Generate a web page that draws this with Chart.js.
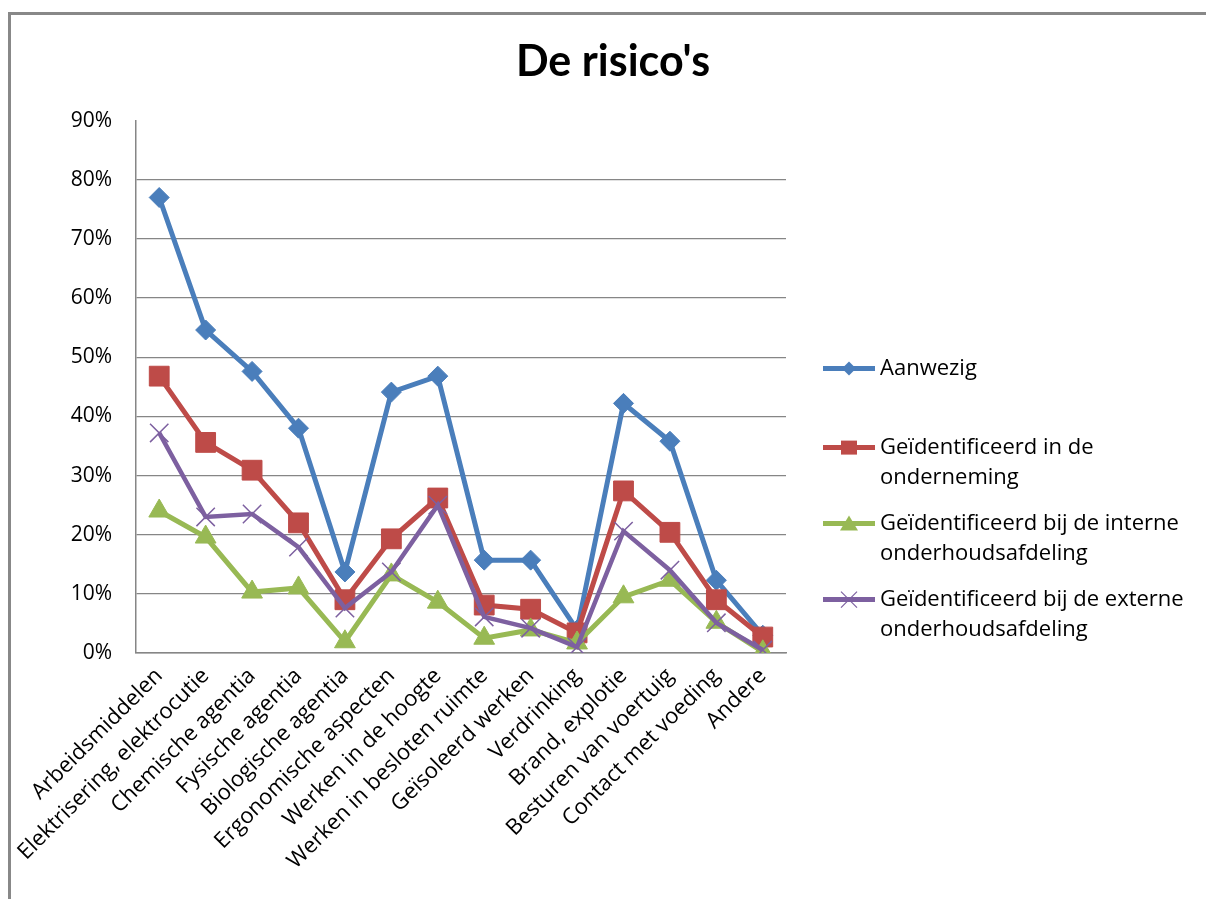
<!DOCTYPE html>
<html>
<head>
<meta charset="utf-8">
<title>De risico's</title>
<script src="https://cdn.jsdelivr.net/npm/chart.js@4/dist/chart.umd.min.js"></script>
<style>
  html, body { margin: 0; padding: 0; background: #fff; }
  #wrap { position: relative; width: 1206px; height: 899px; overflow: hidden; }
  #frame {
    position: absolute; left: 8px; top: 12px; width: 1300px; height: 1000px;
    border-left: 3px solid #888; border-top: 3px solid #888; pointer-events: none;
  }
</style>
</head>
<body>
<div id="wrap">
  <canvas id="risicoChart"></canvas>
  <div id="frame"></div>
</div>
<script>
const categories = [
  "Arbeidsmiddelen", "Elektrisering, elektrocutie", "Chemische agentia",
  "Fysische agentia", "Biologische agentia", "Ergonomische aspecten",
  "Werken in de hoogte", "Werken in besloten ruimte", "Geïsoleerd werken",
  "Verdrinking", "Brand, explotie", "Besturen van voertuig",
  "Contact met voeding", "Andere"
];

const seriesNames = [
  "Aanwezig",
  "Geïdentificeerd in de onderneming",
  "Geïdentificeerd bij de interne onderhoudsafdeling",
  "Geïdentificeerd bij de externe onderhoudsafdeling"
];

// values in %
const aanwezig    = [77.0, 54.6, 47.6, 38.0, 13.7, 44.1, 46.8, 15.7, 15.7, 3.9, 42.2, 35.8, 12.3, 3.0];
const onderneming = [46.8, 35.6, 30.9, 22.0, 9.0, 19.3, 26.2, 8.1, 7.4, 3.4, 27.4, 20.4, 9.0, 2.7];
const intern      = [24.0, 19.6, 10.3, 11.0, 1.9, 13.2, 8.6, 2.5, 3.9, 1.7, 9.5, 12.3, 5.2, 0.2];
const extern      = [37.2, 23.0, 23.5, 17.9, 7.6, 13.7, 25.0, 6.1, 4.2, 1.0, 20.6, 14.0, 5.1, 0.5];

const yTicks = [0, 10, 20, 30, 40, 50, 60, 70, 80, 90];

const colors = ["#4a7ebb", "#be4b48", "#98b954", "#7d60a0"];
const markers = ["rectRot", "rect", "triangle", "crossRot"];
const markerSize = [10, 14, 12, 13];

const FONT = "'Open Sans', Lato, sans-serif";

// small marker drawing for the side legend
function drawMarker(ctx, style, x, y, color) {
  ctx.fillStyle = color;
  ctx.strokeStyle = color;
  ctx.beginPath();
  if (style === "rectRot") {
    ctx.moveTo(x - 7, y); ctx.lineTo(x, y - 7); ctx.lineTo(x + 7, y); ctx.lineTo(x, y + 7);
    ctx.closePath(); ctx.fill();
  } else if (style === "rect") {
    ctx.rect(x - 8, y - 7, 16, 14); ctx.fill();
  } else if (style === "triangle") {
    ctx.moveTo(x, y - 8); ctx.lineTo(x + 9, y + 7); ctx.lineTo(x - 9, y + 7);
    ctx.closePath(); ctx.fill();
  } else {
    ctx.lineWidth = 1.2;
    ctx.moveTo(x - 8, y - 8); ctx.lineTo(x + 8, y + 8);
    ctx.moveTo(x + 8, y - 8); ctx.lineTo(x - 8, y + 8);
    ctx.stroke();
  }
}

function wrapText(ctx, text, maxWidth) {
  const words = text.split(" ");
  const lines = [];
  let line = "";
  words.forEach(w => {
    const test = line ? line + " " + w : w;
    if (ctx.measureText(test).width > maxWidth && line) {
      lines.push(line);
      line = w;
    } else {
      line = test;
    }
  });
  if (line) lines.push(line);
  return lines;
}

const sideLegend = {
  id: "sideLegend",
  afterDraw(chart) {
    const { ctx, chartArea } = chart;
    const lineStart = chartArea.right + 37;
    const textX = lineStart + 57;
    ctx.save();
    ctx.font = "22px " + FONT;
    ctx.textBaseline = "middle";
    let y = chartArea.top + 248;
    chart.data.datasets.forEach((ds, i) => {
      ctx.lineWidth = 5;
      ctx.strokeStyle = ds.borderColor;
      ctx.beginPath();
      ctx.moveTo(lineStart, y);
      ctx.lineTo(lineStart + 52, y);
      ctx.stroke();
      drawMarker(ctx, markers[i], lineStart + 26, y, ds.borderColor);
      const lines = wrapText(ctx, ds.label, chart.width - textX - 2);
      ctx.fillStyle = "#000";
      lines.forEach((l, k) => ctx.fillText(l, textX, y + k * 30));
      y += (lines.length - 1) * 30 + (i === 0 ? 79 : 46);
    });
    ctx.restore();
  }
};

const seriesData = [aanwezig, onderneming, intern, extern];

const datasets = seriesData.map((values, i) => ({
  label: seriesNames[i],
  data: values,
  borderColor: colors[i],
  backgroundColor: colors[i],
  borderWidth: i === 3 ? 4.5 : 5,
  pointStyle: markers[i],
  pointRadius: markerSize[i],
  pointHoverRadius: markerSize[i],
  pointBorderWidth: i === 3 ? 1.5 : 1,
  pointBackgroundColor: colors[i],
  pointBorderColor: colors[i],
  tension: 0,
  order: 4 - i
}));

const ctx = document.getElementById("risicoChart").getContext("2d");
new Chart(ctx, {
  type: "line",
  data: { labels: categories, datasets },
  plugins: [sideLegend],
  options: {
    responsive: true,
    maintainAspectRatio: false,
    devicePixelRatio: 1,
    animation: false,
    layout: { padding: { left: 20, top: 0, right: 0, bottom: 0 } },
    plugins: {
      legend: { display: false },
      tooltip: { enabled: false },
      title: {
        display: true,
        text: "De risico's",
        color: "#000",
        font: { family: "Lato, 'Open Sans', sans-serif", size: 43, weight: "bold", lineHeight: 1.2 },
        padding: { top: 36, bottom: 33 }
      }
    },
    scales: {
      x: {
        offset: true,
        grid: { display: false, drawTicks: false },
        border: { display: true, color: "#868686", width: 1.5 },
        ticks: {
          autoSkip: false,
          minRotation: 45,
          maxRotation: 45,
          padding: 10,
          color: "#000",
          font: { family: FONT, size: 22 }
        },
        afterFit(scale) { scale.height = 246; }
      },
      y: {
        min: 0,
        max: 90,
        afterBuildTicks(scale) { scale.ticks = yTicks.map(v => ({ value: v })); },
        grid: {
          drawTicks: false,
          color: c => (c.tick.value === 90 ? "rgba(0,0,0,0)" : "#868686"),
          lineWidth: 1.2
        },
        border: { display: true, color: "#868686", width: 1.5 },
        ticks: {
          padding: 24,
          color: "#000",
          font: { family: FONT, size: 21 },
          callback: v => v + "%"
        },
        afterFit(scale) { scale.width = 116; }
      },
      spacer: {
        position: "right",
        display: true,
        grid: { display: false, drawTicks: false },
        border: { display: false },
        ticks: { display: false },
        afterFit(scale) { scale.width = 420; }
      }
    }
  }
});
</script>
</body>
</html>
